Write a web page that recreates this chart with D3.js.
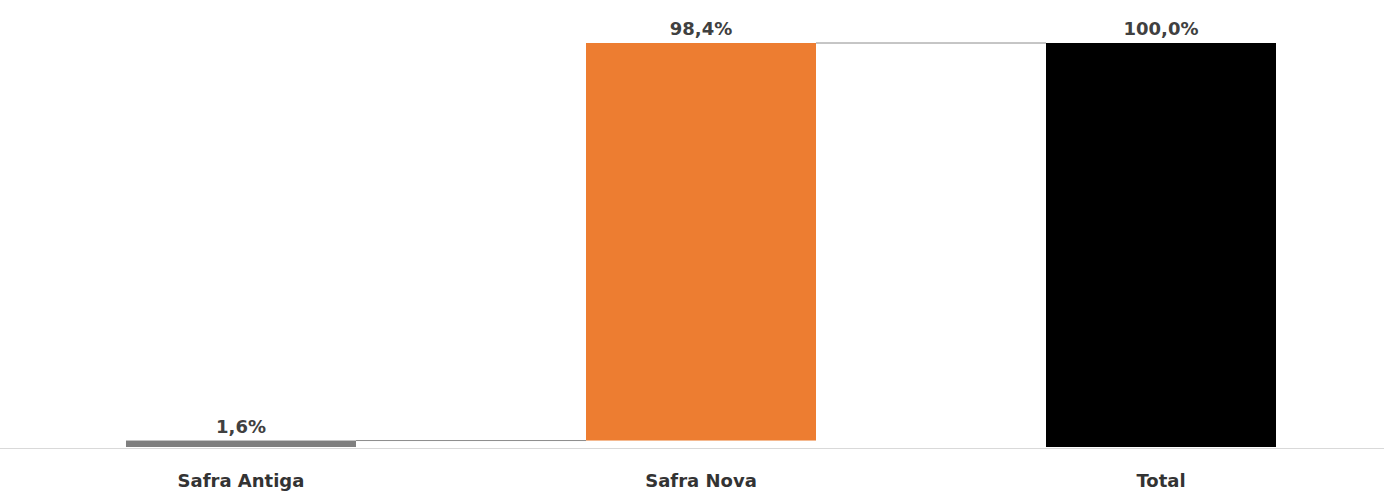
<!DOCTYPE html>
<html>
<head>
<meta charset="utf-8">
<script src="https://cdn.jsdelivr.net/npm/d3@7"></script>
<style>
  body { margin: 0; background: #fff; }
  text { font-family: "DejaVu Sans", "Liberation Sans", sans-serif; }
</style>
</head>
<body>
<div id="chart-area"></div>
<script>
// chart data
const categories = ['Safra Antiga', 'Safra Nova', 'Total'];
const values = [1.6, 98.4, 100.0];
const isTotal = [false, false, true];
const colors = ['#7f7f7f', '#ed7d31', '#000000'];

const W = 1384, H = 495;
const margin = {left: 11, right: -7, top: 43, bottom: 48};
const width = W - margin.left - margin.right;
const height = H - margin.top - margin.bottom;

const svg = d3.select('#chart-area')
  .append('svg')
  .attr('width', W)
  .attr('height', H);

const g = svg.append('g')
  .attr('transform', `translate(${margin.left}, ${margin.top})`);

// build waterfall steps
let running = 0;
const steps = categories.map((c, i) => {
  let start, end;
  if (isTotal[i]) { start = 0; end = values[i]; }
  else { start = running; end = running + values[i]; }
  running = end;
  return {cat: c, value: values[i], start, end, color: colors[i]};
});

const x = d3.scaleBand()
  .domain(categories)
  .range([0, width])
  .paddingInner(0.5)
  .paddingOuter(0.25);

const y = d3.scaleLinear()
  .domain([0, 100])
  .range([height, 0]);

// baseline
svg.append('line')
  .attr('x1', 0).attr('x2', W)
  .attr('y1', margin.top + height + 1.5).attr('y2', margin.top + height + 1.5)
  .attr('stroke', '#d9d9d9')
  .attr('stroke-width', 1);

// connectors
for (let i = 0; i < steps.length - 1; i++) {
  const yy = y(steps[i].end);
  g.append('line')
    .attr('x1', x(steps[i].cat) + x.bandwidth())
    .attr('x2', x(steps[i + 1].cat))
    .attr('y1', yy).attr('y2', yy)
    .attr('stroke', '#8c8c8c')
    .attr('stroke-width', 1);
}

// bars
g.selectAll('rect.bar')
  .data(steps)
  .enter()
  .append('rect')
  .attr('class', 'bar')
  .attr('x', d => x(d.cat))
  .attr('y', d => y(Math.max(d.start, d.end)))
  .attr('width', x.bandwidth())
  .attr('height', d => Math.abs(y(d.start) - y(d.end)))
  .attr('fill', d => d.color);

// value labels
g.selectAll('text.val')
  .data(steps)
  .enter()
  .append('text')
  .attr('class', 'val')
  .attr('x', d => x(d.cat) + x.bandwidth() / 2)
  .attr('y', d => y(d.end) - 8)
  .attr('text-anchor', 'middle')
  .attr('font-size', '18px')
  .attr('font-weight', 'bold')
  .attr('fill', '#404040')
  .text(d => d.value.toFixed(1).replace('.', ',') + '%');

// x axis labels
const xAxis = d3.axisBottom(x).tickSize(0).tickPadding(27);
const ax = g.append('g')
  .attr('transform', `translate(0, ${height})`)
  .call(xAxis);
ax.select('.domain').remove();
ax.selectAll('text')
  .attr('font-size', '18px')
  .attr('font-weight', 'bold')
  .attr('fill', '#333')
  .style('font-family', '"DejaVu Sans", "Liberation Sans", sans-serif');
</script>
</body>
</html>
